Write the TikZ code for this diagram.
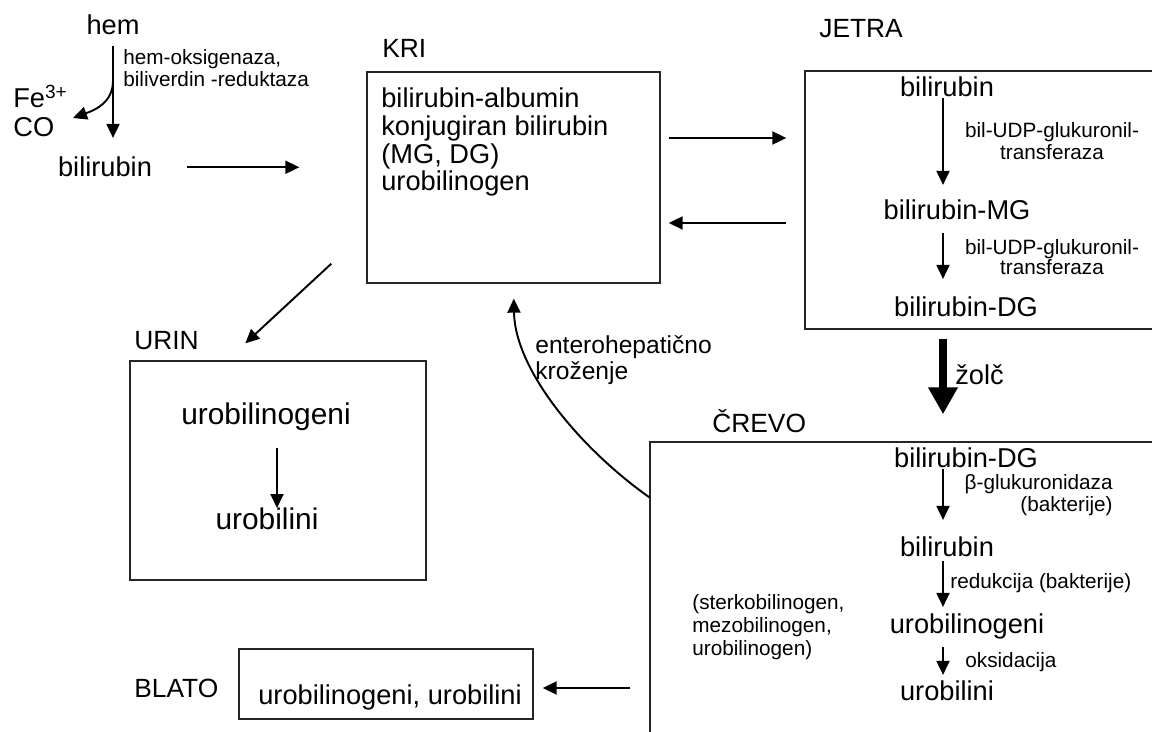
\documentclass[tikz,border=0pt]{standalone}
\usepackage{fontspec}
\setmainfont{Liberation Sans}
\usetikzlibrary{arrows.meta,calc}
\tikzset{
    box/.style={rectangle, draw=black!85, line width=0.8pt, inner sep=0pt},
    chem/.style={inner sep=0pt, font=\fontsize{15.5}{16}\selectfont},
    chemBig/.style={inner sep=0pt, font=\fontsize{17}{18}\selectfont},
    organ/.style={inner sep=0pt, anchor=base west, font=\fontsize{15}{16}\selectfont},
    enzyme/.style={inner sep=0pt, font=\fontsize{11.8}{13}\selectfont},
    line/.style={draw, -{Triangle[length=0.28cm,width=0.26cm]}, line width=1.1pt},
    lineBold/.style={draw, -{Triangle[length=0.54cm,width=0.56cm]}, line width=4.5pt}
}
\begin{document}
\begin{tikzpicture}[x=0.02cm, y=-0.02cm]
  \useasboundingbox (0,0) rectangle (1152,732);
  \clip (0,0) rectangle (1152,732);

  % heme breakdown
  \node[chem, anchor=base] (hem) at (113,35) {hem};
  \node[chem, anchor=base] (bil) at (105,177) {bilirubin};
  \node[chem, anchor=base west] (fe) at (13,108) {Fe\textsuperscript{3+}};
  \node[chem, anchor=base west] (co) at (13,137) {CO};
  \node[enzyme, anchor=base west, align=left] (hox) at (123,87) {hem-oksigenaza,\\biliverdin -reduktaza};
  \coordinate (branch) at ($(hem.south)+(0,45)$);
  \coordinate (feco) at (73,118);
  \draw[line, shorten <=0.2cm, shorten >=0.38cm] (hem.south) -- (hem.south |- bil.north);
  \draw[line] (branch) .. controls +(0,22) and +(22,-8) .. (feco);

  % boxes
  \node[box, minimum width=5.86cm, minimum height=4.22cm] (kri) at (513.5,177.5) {};
  \node[box, minimum width=7.3cm, minimum height=5.16cm] (jetra) at (987.5,200) {};
  \node[box, minimum width=10.4cm, minimum height=6.06cm] (crevo) at (910,593.5) {};
  \node[box, minimum width=5.92cm, minimum height=4.38cm] (urin) at (278,470.5) {};
  \node[box, minimum width=5.88cm, minimum height=1.4cm] (blato) at (386,684) {};

  \node[organ] (kriLbl) at (382,58) {KRI};
  \node[organ] (jetraLbl) at (819,38) {JETRA};
  \node[organ] (crevoLbl) at (712,433) {ČREVO};
  \node[organ] (urinLbl) at (134,350) {URIN};
  \node[organ] (blatoLbl) at (134,697) {BLATO};

  % blood
  \node[chem, anchor=base west, align=left, font=\fontsize{15.5}{15.9}\selectfont] (kriTxt) at (381,191)
    {bilirubin-albumin\\konjugiran bilirubin\\(MG, DG)\\urobilinogen};

  % liver
  \coordinate (spine) at (943,0);
  \node[chem, anchor=base] (jb1) at (947,97) {bilirubin};
  \node[chem, anchor=base] (jb2) at (957,220) {bilirubin-MG};
  \node[chem, anchor=base] (jb3) at (966,317) {bilirubin-DG};
  \node[enzyme, anchor=base, align=center] (ugt1) at (1052,160) {bil-UDP-glukuronil-\\transferaza};
  \node[enzyme, anchor=base, align=center, font=\fontsize{11.8}{11.4}\selectfont] (ugt2) at (1052,275) {bil-UDP-glukuronil-\\transferaza};
  \draw[line, shorten >=0.3cm] (spine |- jb1.south) -- (spine |- jb2.north);
  \draw[line, shorten <=0.24cm, shorten >=0.36cm] (spine |- jb2.south) -- (spine |- jb3.north);

  % bile
  \draw[lineBold, shorten <=0.18cm, shorten >=0.54cm] (spine |- jetra.south) -- (spine |- crevo.north);
  \node[chem, anchor=base west] (zolc) at (955,385) {žolč};

  % intestine
  \node[chem, anchor=base] (c1) at (966,468) {bilirubin-DG};
  \node[chem, anchor=base] (c2) at (947,557) {bilirubin};
  \node[chem, anchor=base] (c3) at (967,633) {urobilinogeni};
  \node[chem, anchor=base] (c4) at (947,700) {urobilini};
  \node[enzyme, anchor=base east, align=right] (gluc) at (1113,512) {β-glukuronidaza\\(bakterije)};
  \node[enzyme, anchor=base west] (red) at (950,588) {redukcija (bakterije)};
  \node[enzyme, anchor=base west] (oks) at (965,667) {oksidacija};
  \node[enzyme, anchor=base west, align=left] (sterko) at (692,655) {(sterkobilinogen,\\mezobilinogen,\\urobilinogen)};
  \draw[line, shorten >=0.34cm] (spine |- c1.south) -- (spine |- c2.north);
  \draw[line, shorten <=0.06cm, shorten >=0.12cm] (spine |- c2.south) -- (spine |- c3.north);
  \draw[line, shorten <=0.16cm, shorten >=0.1cm] (spine |- c3.south) -- (spine |- c4.north);

  % urine and stool
  \node[chemBig, anchor=base] (u1) at (266,425) {urobilinogeni};
  \node[chemBig, anchor=base] (u2) at (267,530) {urobilini};
  \draw[line, shorten <=0.32cm] ([xshift=0.22cm]u1.south) -- ([xshift=0.22cm]u1.south |- u2.north);
  \node[chem, anchor=base] (b1) at (390,704) {urobilinogeni, urobilini};

  % transport
  \draw[line, shorten <=0.7cm, shorten >=1.34cm] (bil.east) -- (bil.east -| kri.west);
  \draw[line, shorten <=0.16cm, shorten >=0.36cm] ([yshift=0.79cm]kri.east) -- ([yshift=0.79cm]kri.east -| jetra.west);
  \draw[line, shorten <=0.36cm, shorten >=0.16cm] ([yshift=-0.91cm]kri.east -| jetra.west) -- ([yshift=-0.91cm]kri.east);
  \draw[line] ([shift={(-35,-20)}]kri.south west) -- ([shift={(116,-17)}]urin.north west);
  \draw[line, shorten <=0.38cm, shorten >=0.18cm] ([yshift=-0.08cm]blato.east -| crevo.west) -- ([yshift=-0.08cm]blato.east);
  \draw[line, shorten >=0.3cm] ([yshift=-1.12cm]crevo.north west) .. controls +(-68,-48) and +(1.5,87) .. (kri.south);
  \node[enzyme, anchor=base west, align=left, font=\fontsize{14}{14.8}\selectfont] (entero) at (535,380) {enterohepatično\\kroženje};
\end{tikzpicture}
\end{document}
